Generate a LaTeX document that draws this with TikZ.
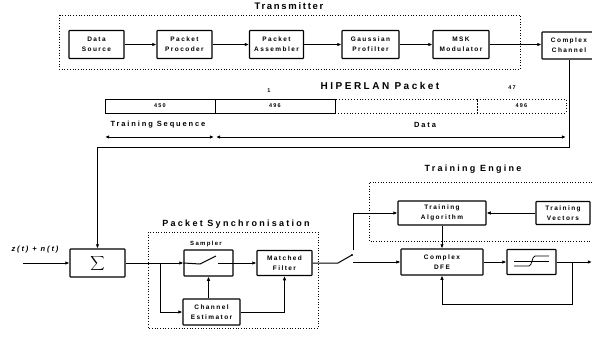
\documentclass[tikz,border=0pt]{standalone}
\usepackage{fontspec}
\setmainfont{Liberation Sans}
\newfontfamily\lblfont[LetterSpace=22]{Liberation Sans}
\newfontfamily\ttlfont[LetterSpace=25]{Liberation Sans}
\newfontfamily\ttlnarrow[LetterSpace=18]{Liberation Sans}
\usetikzlibrary{arrows.meta}

\begin{document}
\begin{tikzpicture}[x=1pt,y=-1pt,
  blk/.style={draw, line width=1.1pt, rounded corners=0.6pt, inner sep=0pt, align=center,
    font=\lblfont\bfseries\fontsize{6.5}{10}\selectfont},
  seg/.style={line width=0.9pt, inner sep=0pt, minimum height=14pt,
    font=\lblfont\bfseries\fontsize{5.5}{5.5}\selectfont},
  wire/.style={line width=1pt},
  tip/.tip={Latex[length=4.2pt,width=3.6pt]},
  arr/.style={wire, -tip},
  grp/.style={dotted, line width=0.7pt},
  ttl/.style={inner sep=0pt, font=\ttlfont\bfseries\fontsize{9}{9}\selectfont},
  sub/.style={inner sep=0pt, font=\ttlfont\bfseries\fontsize{7.5}{7.5}\selectfont},
  tiny/.style={inner sep=0pt, font=\lblfont\bfseries\fontsize{5.5}{5.5}\selectfont}]

\useasboundingbox (0,0) rectangle (592,337);
\fill[white] (0,0) rectangle (592,337);
\clip (0,0) rectangle (592,337);

% ---------------- transmitter chain ----------------
\draw[grp] (59,15) rectangle (520,69);
\node[ttl, font=\ttlnarrow\bfseries\fontsize{9.5}{9.5}\selectfont] (txttl) at (289,6) {Transmitter};

\node[blk, minimum width=55pt, minimum height=28pt] (ds)  at (96.5,44.5)  {Data\\Source};
\node[blk, minimum width=55pt, minimum height=28pt] (pp)  at (184.5,44.5) {Packet\\Procoder};
\node[blk, minimum width=54pt, minimum height=28pt] (pa)  at (276.5,44.5) {Packet\\Assembler};
\node[blk, minimum width=57pt, minimum height=28pt] (gp)  at (370.5,44.5) {Gaussian\\Profilter};
\node[blk, minimum width=56pt, minimum height=28pt] (msk) at (461,44.5)   {MSK\\Modulator};
\node[blk, minimum width=54pt, minimum height=27pt] (cc)  at (569,45.5)   {Complex\\Channel};

\draw[arr] (ds.east)  -- (pp.west);
\draw[arr] (pp.east)  -- (pa.west);
\draw[arr] (pa.east)  -- (gp.west);
\draw[arr] (gp.east)  -- (msk.west);
\draw[arr] (msk.east) -- (cc.west |- msk.east);

% ---------------- packet format ----------------
\node[ttl, font=\ttlfont\bfseries\fontsize{10}{10}\selectfont] (pkttl) at (380,86) {HIPERLAN Packet};
\node[tiny] (n1)  at (269,91) {1};
\node[tiny] (n47) at (512,88) {47};

\node[seg, draw, minimum width=110pt] (b1) at (160,106)   {450};
\node[seg, draw, minimum width=120pt] (b2) at (275,106)   {496};
\node[seg, draw, dotted, line width=0.7pt, minimum width=142pt] (b3) at (406,106) {};
\node[seg, draw, dotted, line width=0.7pt, minimum width=89pt]  (b4) at (521.5,106) {496};

\node[sub] (tslbl) at (158,125) {Training Sequence};
\node[sub] (dlbl)  at (425,125) {Data};

\coordinate (tsL) at (105,137);
\coordinate (tsR) at (214,137);
\coordinate (dL)  at (216,137);
\coordinate (dR)  at (566,137);
\draw[wire, tip-tip] (tsL) -- (tsR);
\draw[wire, tip-tip] (dL) -- (dR);

% ---------------- receiver front end ----------------
\node[blk, minimum width=55pt, minimum height=28pt] (sig) at (97.5,263)
  {\fontsize{12}{12}\selectfont$\displaystyle\sum$};
\coordinate (in) at (23,263);
\draw[arr] (in) -- (sig.west);
\node[inner sep=0pt, font=\ttlfont\bfseries\itshape\fontsize{7.5}{7.5}\selectfont] (zlab) at (35,250) {z(t) + n(t)};

% channel output fed down to the receiver
\coordinate (c1) at (569,147);
\coordinate (c2) at (97.5,147);
\draw[arr] (cc.south) -- (c1) -- (c2) -- (sig.north);

% packet synchronisation
\draw[grp] (148,232) rectangle (318,328);
\node[ttl] (psttl) at (236,224) {Packet Synchronisation};

\node[tiny, font=\lblfont\bfseries\fontsize{6}{6}\selectfont] (smplbl) at (206,244) {Sampler};
\node[blk, minimum width=49pt, minimum height=26pt] (smp) at (208.5,263) {};
\node[blk, minimum width=55pt, minimum height=25pt] (mf)  at (284.5,263) {Matched\\Filter};
\node[blk, minimum width=57pt, minimum height=26pt] (ce)  at (211.5,312) {Channel\\Estimator};

\draw[arr] (sig.east) -- (smp.west);
\coordinate (br)  at (160,263);
\coordinate (brd) at (160,312);
\draw[arr] (br) -- (brd) -- (ce.west);
\draw[arr] (smp.south |- ce.north) -- (smp.south);
\draw[arr] (ce.east) -| (mf.south);
\draw[arr] (smp.east) -- (mf.west);

% switch drawn inside the sampler
\coordinate (swa) at (200,264);
\coordinate (swb) at (216,256);
\coordinate (swc) at (218,263);
\draw[wire] (smp.west) -- (swa) -- (swb);
\draw[wire] (swc) -- (smp.east);

% training / data switch
\coordinate (s1)  at (338,263);
\coordinate (s2)  at (352,255);
\coordinate (up1) at (353,250);
\coordinate (up2) at (353,213);
\coordinate (lo1) at (353,262);
\draw[wire] (mf.east) -- (s1) -- (s2);
\fill (s2) circle (1.2pt);

% ---------------- training engine ----------------
\draw[grp] (600,182) -- (369,182) -- (369,241) -- (600,241);
\node[ttl] (tettl) at (473,169) {Training Engine};

\node[blk, minimum width=88pt, minimum height=24pt] (ta)  at (442,213)   {Training\\Algorithm};
\node[blk, minimum width=54pt, minimum height=23pt] (tv)  at (563,213)   {Training\\Vectors};
\node[blk, minimum width=82pt, minimum height=26pt] (dfe) at (442,262)   {Complex\\DFE};
\node[blk, minimum width=49pt, minimum height=25pt] (slc) at (531.5,262) {};

\draw[arr] (up1) -- (up2) -- (ta.west);
\draw[arr] (lo1) -- (dfe.west);
\draw[arr] (tv.west) -- (ta.east);
\draw[arr] (ta.south) -- (dfe.north);
\draw[arr] (dfe.east) -- (slc.west);

\coordinate (out) at (592,262);
\draw[arr] (slc.east) -- (out);

% decision feedback path
\coordinate (fb1) at (572,262);
\coordinate (fb2) at (572,304);
\coordinate (fb3) at (442,304);
\draw[arr] (fb1) -- (fb2) -- (fb3) -- (dfe.south);

% hard-decision symbol in the slicer
\draw[line width=0.8pt] (514,261) -- (549,261);
\draw[line width=0.8pt] (514,266) -- (529,266) .. controls (532,266) and (532,256) .. (535,256) -- (549,256);

\end{tikzpicture}
\end{document}
